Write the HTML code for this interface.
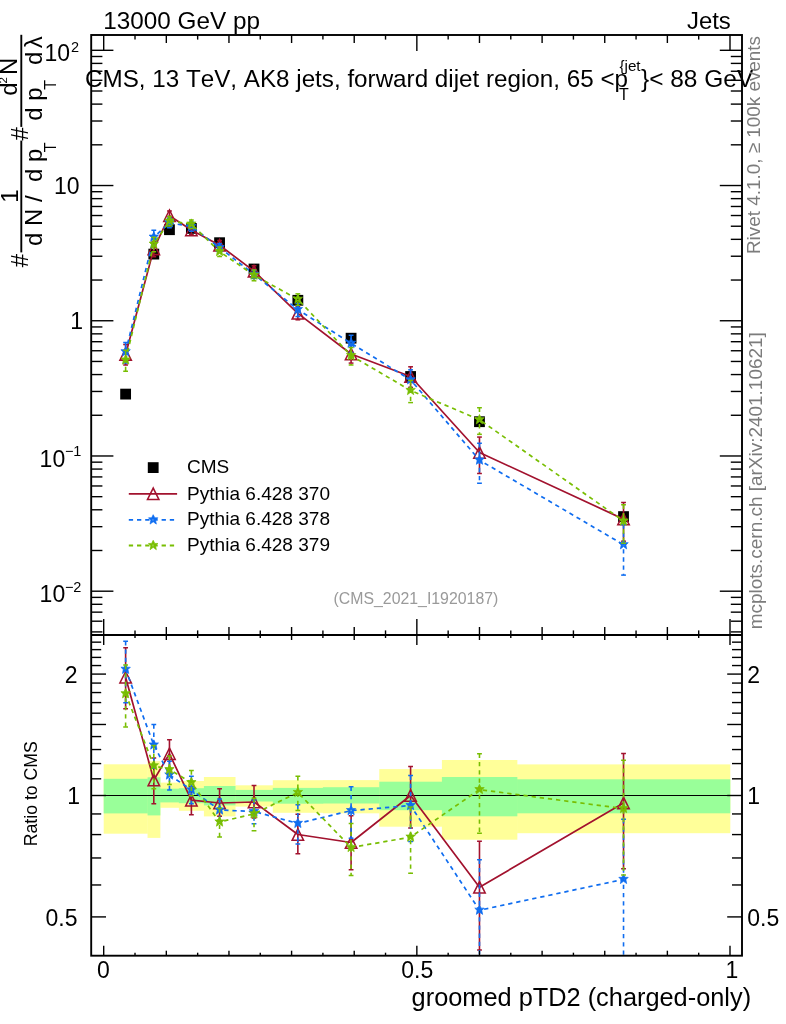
<!DOCTYPE html>
<html><head><meta charset="utf-8"><title>CMS groomed pTD2</title>
<style>html,body{margin:0;padding:0;background:#fff;}body{width:786px;height:1024px;overflow:hidden;font-family:"Liberation Sans", sans-serif;}svg{will-change:transform;}svg text{font-family:"Liberation Sans", sans-serif;font-kerning:none;}</style>
</head><body>
<svg width="786" height="1024" viewBox="0 0 786 1024" font-family='"Liberation Sans", sans-serif' style="display:block">
<rect width="786" height="1024" fill="#fff"/>
<defs><clipPath id="cm"><rect x="91.2" y="35.0" width="650.8" height="600.0"/></clipPath><clipPath id="cr"><rect x="91.2" y="635.0" width="650.8" height="320.70000000000005"/></clipPath></defs>
<rect x="103.70" y="764.30" width="44.14" height="69.40" fill="#ffff99"/>
<rect x="147.54" y="761.20" width="12.83" height="76.70" fill="#ffff99"/>
<rect x="160.07" y="782.60" width="19.09" height="25.20" fill="#ffff99"/>
<rect x="178.86" y="781.00" width="25.35" height="29.80" fill="#ffff99"/>
<rect x="203.91" y="777.00" width="31.61" height="39.40" fill="#ffff99"/>
<rect x="235.22" y="785.30" width="37.88" height="21.30" fill="#ffff99"/>
<rect x="272.80" y="780.20" width="50.40" height="32.60" fill="#ffff99"/>
<rect x="322.90" y="780.10" width="56.67" height="33.20" fill="#ffff99"/>
<rect x="379.27" y="769.10" width="62.93" height="57.60" fill="#ffff99"/>
<rect x="441.90" y="760.00" width="75.46" height="79.70" fill="#ffff99"/>
<rect x="517.06" y="764.40" width="213.24" height="68.80" fill="#ffff99"/>
<rect x="103.70" y="778.80" width="44.14" height="34.60" fill="#99ff99"/>
<rect x="147.54" y="777.30" width="12.83" height="38.10" fill="#99ff99"/>
<rect x="160.07" y="788.70" width="19.09" height="13.70" fill="#99ff99"/>
<rect x="178.86" y="788.20" width="25.35" height="15.00" fill="#99ff99"/>
<rect x="203.91" y="786.00" width="31.61" height="19.40" fill="#99ff99"/>
<rect x="235.22" y="789.90" width="37.88" height="11.60" fill="#99ff99"/>
<rect x="272.80" y="787.90" width="50.40" height="15.80" fill="#99ff99"/>
<rect x="322.90" y="787.20" width="56.67" height="16.30" fill="#99ff99"/>
<rect x="379.27" y="781.70" width="62.93" height="28.50" fill="#99ff99"/>
<rect x="441.90" y="777.00" width="75.46" height="39.30" fill="#99ff99"/>
<rect x="517.06" y="779.30" width="213.24" height="34.00" fill="#99ff99"/>
<line x1="91.20" y1="795.50" x2="742.00" y2="795.50" stroke="#000" stroke-width="1.2" />
<g clip-path="url(#cr)">
<line x1="125.62" y1="647.80" x2="125.62" y2="708.80" stroke="#a2122e" stroke-width="1.6" />
<line x1="123.22" y1="647.80" x2="128.02" y2="647.80" stroke="#a2122e" stroke-width="1.5" />
<line x1="123.22" y1="708.80" x2="128.02" y2="708.80" stroke="#a2122e" stroke-width="1.5" />
<line x1="153.80" y1="757.90" x2="153.80" y2="803.70" stroke="#a2122e" stroke-width="1.6" />
<line x1="151.40" y1="757.90" x2="156.20" y2="757.90" stroke="#a2122e" stroke-width="1.5" />
<line x1="151.40" y1="803.70" x2="156.20" y2="803.70" stroke="#a2122e" stroke-width="1.5" />
<line x1="169.46" y1="739.80" x2="169.46" y2="769.02" stroke="#a2122e" stroke-width="1.6" />
<line x1="167.06" y1="739.80" x2="171.86" y2="739.80" stroke="#a2122e" stroke-width="1.5" />
<line x1="167.06" y1="769.02" x2="171.86" y2="769.02" stroke="#a2122e" stroke-width="1.5" />
<line x1="191.38" y1="786.81" x2="191.38" y2="814.70" stroke="#a2122e" stroke-width="1.6" />
<line x1="188.98" y1="786.81" x2="193.78" y2="786.81" stroke="#a2122e" stroke-width="1.5" />
<line x1="188.98" y1="814.70" x2="193.78" y2="814.70" stroke="#a2122e" stroke-width="1.5" />
<line x1="219.57" y1="788.80" x2="219.57" y2="816.20" stroke="#a2122e" stroke-width="1.6" />
<line x1="217.17" y1="788.80" x2="221.97" y2="788.80" stroke="#a2122e" stroke-width="1.5" />
<line x1="217.17" y1="816.20" x2="221.97" y2="816.20" stroke="#a2122e" stroke-width="1.5" />
<line x1="254.01" y1="785.60" x2="254.01" y2="818.10" stroke="#a2122e" stroke-width="1.6" />
<line x1="251.61" y1="785.60" x2="256.41" y2="785.60" stroke="#a2122e" stroke-width="1.5" />
<line x1="251.61" y1="818.10" x2="256.41" y2="818.10" stroke="#a2122e" stroke-width="1.5" />
<line x1="297.85" y1="814.30" x2="297.85" y2="853.70" stroke="#a2122e" stroke-width="1.6" />
<line x1="295.45" y1="814.30" x2="300.25" y2="814.30" stroke="#a2122e" stroke-width="1.5" />
<line x1="295.45" y1="853.70" x2="300.25" y2="853.70" stroke="#a2122e" stroke-width="1.5" />
<line x1="351.09" y1="815.70" x2="351.09" y2="869.70" stroke="#a2122e" stroke-width="1.6" />
<line x1="348.69" y1="815.70" x2="353.49" y2="815.70" stroke="#a2122e" stroke-width="1.5" />
<line x1="348.69" y1="869.70" x2="353.49" y2="869.70" stroke="#a2122e" stroke-width="1.5" />
<line x1="410.59" y1="766.50" x2="410.59" y2="827.90" stroke="#a2122e" stroke-width="1.6" />
<line x1="408.19" y1="766.50" x2="412.99" y2="766.50" stroke="#a2122e" stroke-width="1.5" />
<line x1="408.19" y1="827.90" x2="412.99" y2="827.90" stroke="#a2122e" stroke-width="1.5" />
<line x1="479.48" y1="841.30" x2="479.48" y2="950.00" stroke="#a2122e" stroke-width="1.6" />
<line x1="477.08" y1="841.30" x2="481.88" y2="841.30" stroke="#a2122e" stroke-width="1.5" />
<line x1="477.08" y1="950.00" x2="481.88" y2="950.00" stroke="#a2122e" stroke-width="1.5" />
<line x1="623.53" y1="753.40" x2="623.53" y2="868.80" stroke="#a2122e" stroke-width="1.6" />
<line x1="621.13" y1="753.40" x2="625.93" y2="753.40" stroke="#a2122e" stroke-width="1.5" />
<line x1="621.13" y1="868.80" x2="625.93" y2="868.80" stroke="#a2122e" stroke-width="1.5" />
<path d="M125.62,677.20 L153.80,780.00 L169.46,753.80 L191.38,800.20 L219.57,803.00 L254.01,802.00 L297.85,834.50 L351.09,842.50 L410.59,795.50 L479.48,887.30 L623.53,803.00" fill="none" stroke="#a2122e" stroke-width="1.7"  stroke-linejoin="round"/>
<path d="M125.62,671.50 L119.92,682.90 L131.32,682.90 Z" fill="none" stroke="#a2122e" stroke-width="1.55" stroke-linejoin="miter"/>
<path d="M153.80,774.30 L148.10,785.70 L159.50,785.70 Z" fill="none" stroke="#a2122e" stroke-width="1.55" stroke-linejoin="miter"/>
<path d="M169.46,748.10 L163.76,759.50 L175.16,759.50 Z" fill="none" stroke="#a2122e" stroke-width="1.55" stroke-linejoin="miter"/>
<path d="M191.38,794.50 L185.68,805.90 L197.08,805.90 Z" fill="none" stroke="#a2122e" stroke-width="1.55" stroke-linejoin="miter"/>
<path d="M219.57,797.30 L213.87,808.70 L225.27,808.70 Z" fill="none" stroke="#a2122e" stroke-width="1.55" stroke-linejoin="miter"/>
<path d="M254.01,796.30 L248.31,807.70 L259.71,807.70 Z" fill="none" stroke="#a2122e" stroke-width="1.55" stroke-linejoin="miter"/>
<path d="M297.85,828.80 L292.15,840.20 L303.55,840.20 Z" fill="none" stroke="#a2122e" stroke-width="1.55" stroke-linejoin="miter"/>
<path d="M351.09,836.80 L345.39,848.20 L356.79,848.20 Z" fill="none" stroke="#a2122e" stroke-width="1.55" stroke-linejoin="miter"/>
<path d="M410.59,789.80 L404.89,801.20 L416.29,801.20 Z" fill="none" stroke="#a2122e" stroke-width="1.55" stroke-linejoin="miter"/>
<path d="M479.48,881.60 L473.78,893.00 L485.18,893.00 Z" fill="none" stroke="#a2122e" stroke-width="1.55" stroke-linejoin="miter"/>
<path d="M623.53,797.30 L617.83,808.70 L629.23,808.70 Z" fill="none" stroke="#a2122e" stroke-width="1.55" stroke-linejoin="miter"/>
</g>
<g clip-path="url(#cr)">
<line x1="125.62" y1="641.30" x2="125.62" y2="702.70" stroke="#0f6df0" stroke-width="1.6" stroke-dasharray="4.3 3.9"/>
<line x1="123.22" y1="641.30" x2="128.02" y2="641.30" stroke="#0f6df0" stroke-width="1.5" />
<line x1="123.22" y1="702.70" x2="128.02" y2="702.70" stroke="#0f6df0" stroke-width="1.5" />
<line x1="153.80" y1="724.40" x2="153.80" y2="768.35" stroke="#0f6df0" stroke-width="1.6" stroke-dasharray="4.3 3.9"/>
<line x1="151.40" y1="724.40" x2="156.20" y2="724.40" stroke="#0f6df0" stroke-width="1.5" />
<line x1="151.40" y1="768.35" x2="156.20" y2="768.35" stroke="#0f6df0" stroke-width="1.5" />
<line x1="169.46" y1="761.27" x2="169.46" y2="789.90" stroke="#0f6df0" stroke-width="1.6" stroke-dasharray="4.3 3.9"/>
<line x1="167.06" y1="761.27" x2="171.86" y2="761.27" stroke="#0f6df0" stroke-width="1.5" />
<line x1="167.06" y1="789.90" x2="171.86" y2="789.90" stroke="#0f6df0" stroke-width="1.5" />
<line x1="191.38" y1="776.20" x2="191.38" y2="803.70" stroke="#0f6df0" stroke-width="1.6" stroke-dasharray="4.3 3.9"/>
<line x1="188.98" y1="776.20" x2="193.78" y2="776.20" stroke="#0f6df0" stroke-width="1.5" />
<line x1="188.98" y1="803.70" x2="193.78" y2="803.70" stroke="#0f6df0" stroke-width="1.5" />
<line x1="219.57" y1="799.00" x2="219.57" y2="821.74" stroke="#0f6df0" stroke-width="1.6" stroke-dasharray="4.3 3.9"/>
<line x1="217.17" y1="799.00" x2="221.97" y2="799.00" stroke="#0f6df0" stroke-width="1.5" />
<line x1="217.17" y1="821.74" x2="221.97" y2="821.74" stroke="#0f6df0" stroke-width="1.5" />
<line x1="254.01" y1="800.00" x2="254.01" y2="823.81" stroke="#0f6df0" stroke-width="1.6" stroke-dasharray="4.3 3.9"/>
<line x1="251.61" y1="800.00" x2="256.41" y2="800.00" stroke="#0f6df0" stroke-width="1.5" />
<line x1="251.61" y1="823.81" x2="256.41" y2="823.81" stroke="#0f6df0" stroke-width="1.5" />
<line x1="297.85" y1="804.80" x2="297.85" y2="844.00" stroke="#0f6df0" stroke-width="1.6" stroke-dasharray="4.3 3.9"/>
<line x1="295.45" y1="804.80" x2="300.25" y2="804.80" stroke="#0f6df0" stroke-width="1.5" />
<line x1="295.45" y1="844.00" x2="300.25" y2="844.00" stroke="#0f6df0" stroke-width="1.5" />
<line x1="351.09" y1="786.80" x2="351.09" y2="838.15" stroke="#0f6df0" stroke-width="1.6" stroke-dasharray="4.3 3.9"/>
<line x1="348.69" y1="786.80" x2="353.49" y2="786.80" stroke="#0f6df0" stroke-width="1.5" />
<line x1="348.69" y1="838.15" x2="353.49" y2="838.15" stroke="#0f6df0" stroke-width="1.5" />
<line x1="410.59" y1="775.60" x2="410.59" y2="841.58" stroke="#0f6df0" stroke-width="1.6" stroke-dasharray="4.3 3.9"/>
<line x1="408.19" y1="775.60" x2="412.99" y2="775.60" stroke="#0f6df0" stroke-width="1.5" />
<line x1="408.19" y1="841.58" x2="412.99" y2="841.58" stroke="#0f6df0" stroke-width="1.5" />
<line x1="479.48" y1="859.80" x2="479.48" y2="979.00" stroke="#0f6df0" stroke-width="1.6" stroke-dasharray="4.3 3.9"/>
<line x1="477.08" y1="859.80" x2="481.88" y2="859.80" stroke="#0f6df0" stroke-width="1.5" />
<line x1="477.08" y1="979.00" x2="481.88" y2="979.00" stroke="#0f6df0" stroke-width="1.5" />
<line x1="623.53" y1="819.20" x2="623.53" y2="970.00" stroke="#0f6df0" stroke-width="1.6" stroke-dasharray="4.3 3.9"/>
<line x1="621.13" y1="819.20" x2="625.93" y2="819.20" stroke="#0f6df0" stroke-width="1.5" />
<line x1="621.13" y1="970.00" x2="625.93" y2="970.00" stroke="#0f6df0" stroke-width="1.5" />
<path d="M125.62,669.30 L153.80,745.00 L169.46,775.00 L191.38,789.90 L219.57,810.00 L254.01,811.50 L297.85,823.40 L351.09,810.60 L410.59,805.50 L479.48,910.20 L623.53,879.40" fill="none" stroke="#0f6df0" stroke-width="1.7" stroke-dasharray="4.3 3.9" stroke-linejoin="round"/>
<path d="M120.92,667.24 L123.27,669.58 L122.50,673.50 L125.62,671.15 L128.75,673.50 L127.97,669.58 L130.32,667.24 L127.18,667.24 L125.62,664.10 L124.06,667.24 Z M124.77,669.25 a0.85,0.85 0 1,0 1.7,0 a0.85,0.85 0 1,0 -1.7,0 Z" fill="#0f6df0" fill-rule="evenodd" stroke="#0f6df0" stroke-width="0.7" stroke-linejoin="round"/>
<path d="M149.10,742.94 L151.45,745.28 L150.68,749.20 L153.80,746.85 L156.93,749.20 L156.15,745.28 L158.50,742.94 L155.37,742.94 L153.80,739.80 L152.24,742.94 Z M152.95,744.95 a0.85,0.85 0 1,0 1.7,0 a0.85,0.85 0 1,0 -1.7,0 Z" fill="#0f6df0" fill-rule="evenodd" stroke="#0f6df0" stroke-width="0.7" stroke-linejoin="round"/>
<path d="M164.76,772.94 L167.11,775.28 L166.34,779.20 L169.46,776.85 L172.59,779.20 L171.81,775.28 L174.16,772.94 L171.02,772.94 L169.46,769.80 L167.90,772.94 Z M168.61,774.95 a0.85,0.85 0 1,0 1.7,0 a0.85,0.85 0 1,0 -1.7,0 Z" fill="#0f6df0" fill-rule="evenodd" stroke="#0f6df0" stroke-width="0.7" stroke-linejoin="round"/>
<path d="M186.68,787.84 L189.03,790.18 L188.26,794.10 L191.38,791.75 L194.51,794.10 L193.73,790.18 L196.08,787.84 L192.94,787.84 L191.38,784.70 L189.82,787.84 Z M190.53,789.85 a0.85,0.85 0 1,0 1.7,0 a0.85,0.85 0 1,0 -1.7,0 Z" fill="#0f6df0" fill-rule="evenodd" stroke="#0f6df0" stroke-width="0.7" stroke-linejoin="round"/>
<path d="M214.87,807.94 L217.22,810.28 L216.44,814.20 L219.57,811.85 L222.69,814.20 L221.92,810.28 L224.27,807.94 L221.13,807.94 L219.57,804.80 L218.00,807.94 Z M218.72,809.95 a0.85,0.85 0 1,0 1.7,0 a0.85,0.85 0 1,0 -1.7,0 Z" fill="#0f6df0" fill-rule="evenodd" stroke="#0f6df0" stroke-width="0.7" stroke-linejoin="round"/>
<path d="M249.31,809.44 L251.66,811.78 L250.89,815.70 L254.01,813.35 L257.14,815.70 L256.36,811.78 L258.71,809.44 L255.57,809.44 L254.01,806.30 L252.45,809.44 Z M253.16,811.45 a0.85,0.85 0 1,0 1.7,0 a0.85,0.85 0 1,0 -1.7,0 Z" fill="#0f6df0" fill-rule="evenodd" stroke="#0f6df0" stroke-width="0.7" stroke-linejoin="round"/>
<path d="M293.15,821.34 L295.50,823.68 L294.73,827.60 L297.85,825.25 L300.98,827.60 L300.20,823.68 L302.55,821.34 L299.42,821.34 L297.85,818.20 L296.29,821.34 Z M297.00,823.35 a0.85,0.85 0 1,0 1.7,0 a0.85,0.85 0 1,0 -1.7,0 Z" fill="#0f6df0" fill-rule="evenodd" stroke="#0f6df0" stroke-width="0.7" stroke-linejoin="round"/>
<path d="M346.39,808.54 L348.74,810.88 L347.96,814.80 L351.09,812.45 L354.21,814.80 L353.44,810.88 L355.79,808.54 L352.65,808.54 L351.09,805.40 L349.53,808.54 Z M350.24,810.55 a0.85,0.85 0 1,0 1.7,0 a0.85,0.85 0 1,0 -1.7,0 Z" fill="#0f6df0" fill-rule="evenodd" stroke="#0f6df0" stroke-width="0.7" stroke-linejoin="round"/>
<path d="M405.89,803.44 L408.24,805.78 L407.46,809.70 L410.59,807.35 L413.71,809.70 L412.94,805.78 L415.29,803.44 L412.15,803.44 L410.59,800.30 L409.02,803.44 Z M409.74,805.45 a0.85,0.85 0 1,0 1.7,0 a0.85,0.85 0 1,0 -1.7,0 Z" fill="#0f6df0" fill-rule="evenodd" stroke="#0f6df0" stroke-width="0.7" stroke-linejoin="round"/>
<path d="M474.78,908.14 L477.13,910.48 L476.35,914.40 L479.48,912.05 L482.61,914.40 L481.83,910.48 L484.18,908.14 L481.04,908.14 L479.48,905.00 L477.92,908.14 Z M478.63,910.15 a0.85,0.85 0 1,0 1.7,0 a0.85,0.85 0 1,0 -1.7,0 Z" fill="#0f6df0" fill-rule="evenodd" stroke="#0f6df0" stroke-width="0.7" stroke-linejoin="round"/>
<path d="M618.83,877.34 L621.18,879.68 L620.40,883.60 L623.53,881.25 L626.65,883.60 L625.88,879.68 L628.23,877.34 L625.09,877.34 L623.53,874.20 L621.97,877.34 Z M622.68,879.35 a0.85,0.85 0 1,0 1.7,0 a0.85,0.85 0 1,0 -1.7,0 Z" fill="#0f6df0" fill-rule="evenodd" stroke="#0f6df0" stroke-width="0.7" stroke-linejoin="round"/>
</g>
<g clip-path="url(#cr)">
<line x1="125.62" y1="665.00" x2="125.62" y2="727.10" stroke="#78be02" stroke-width="1.6" stroke-dasharray="4.3 3.9"/>
<line x1="123.22" y1="665.00" x2="128.02" y2="665.00" stroke="#78be02" stroke-width="1.5" />
<line x1="123.22" y1="727.10" x2="128.02" y2="727.10" stroke="#78be02" stroke-width="1.5" />
<line x1="153.80" y1="745.55" x2="153.80" y2="788.70" stroke="#78be02" stroke-width="1.6" stroke-dasharray="4.3 3.9"/>
<line x1="151.40" y1="745.55" x2="156.20" y2="745.55" stroke="#78be02" stroke-width="1.5" />
<line x1="151.40" y1="788.70" x2="156.20" y2="788.70" stroke="#78be02" stroke-width="1.5" />
<line x1="169.46" y1="755.90" x2="169.46" y2="784.46" stroke="#78be02" stroke-width="1.6" stroke-dasharray="4.3 3.9"/>
<line x1="167.06" y1="755.90" x2="171.86" y2="755.90" stroke="#78be02" stroke-width="1.5" />
<line x1="167.06" y1="784.46" x2="171.86" y2="784.46" stroke="#78be02" stroke-width="1.5" />
<line x1="191.38" y1="770.40" x2="191.38" y2="795.71" stroke="#78be02" stroke-width="1.6" stroke-dasharray="4.3 3.9"/>
<line x1="188.98" y1="770.40" x2="193.78" y2="770.40" stroke="#78be02" stroke-width="1.5" />
<line x1="188.98" y1="795.71" x2="193.78" y2="795.71" stroke="#78be02" stroke-width="1.5" />
<line x1="219.57" y1="808.27" x2="219.57" y2="836.90" stroke="#78be02" stroke-width="1.6" stroke-dasharray="4.3 3.9"/>
<line x1="217.17" y1="808.27" x2="221.97" y2="808.27" stroke="#78be02" stroke-width="1.5" />
<line x1="217.17" y1="836.90" x2="221.97" y2="836.90" stroke="#78be02" stroke-width="1.5" />
<line x1="254.01" y1="798.31" x2="254.01" y2="830.80" stroke="#78be02" stroke-width="1.6" stroke-dasharray="4.3 3.9"/>
<line x1="251.61" y1="798.31" x2="256.41" y2="798.31" stroke="#78be02" stroke-width="1.5" />
<line x1="251.61" y1="830.80" x2="256.41" y2="830.80" stroke="#78be02" stroke-width="1.5" />
<line x1="297.85" y1="776.20" x2="297.85" y2="810.47" stroke="#78be02" stroke-width="1.6" stroke-dasharray="4.3 3.9"/>
<line x1="295.45" y1="776.20" x2="300.25" y2="776.20" stroke="#78be02" stroke-width="1.5" />
<line x1="295.45" y1="810.47" x2="300.25" y2="810.47" stroke="#78be02" stroke-width="1.5" />
<line x1="351.09" y1="823.44" x2="351.09" y2="875.40" stroke="#78be02" stroke-width="1.6" stroke-dasharray="4.3 3.9"/>
<line x1="348.69" y1="823.44" x2="353.49" y2="823.44" stroke="#78be02" stroke-width="1.5" />
<line x1="348.69" y1="875.40" x2="353.49" y2="875.40" stroke="#78be02" stroke-width="1.5" />
<line x1="410.59" y1="807.12" x2="410.59" y2="873.30" stroke="#78be02" stroke-width="1.6" stroke-dasharray="4.3 3.9"/>
<line x1="408.19" y1="807.12" x2="412.99" y2="807.12" stroke="#78be02" stroke-width="1.5" />
<line x1="408.19" y1="873.30" x2="412.99" y2="873.30" stroke="#78be02" stroke-width="1.5" />
<line x1="479.48" y1="753.80" x2="479.48" y2="833.20" stroke="#78be02" stroke-width="1.6" stroke-dasharray="4.3 3.9"/>
<line x1="477.08" y1="753.80" x2="481.88" y2="753.80" stroke="#78be02" stroke-width="1.5" />
<line x1="477.08" y1="833.20" x2="481.88" y2="833.20" stroke="#78be02" stroke-width="1.5" />
<line x1="623.53" y1="760.20" x2="623.53" y2="874.90" stroke="#78be02" stroke-width="1.6" stroke-dasharray="4.3 3.9"/>
<line x1="621.13" y1="760.20" x2="625.93" y2="760.20" stroke="#78be02" stroke-width="1.5" />
<line x1="621.13" y1="874.90" x2="625.93" y2="874.90" stroke="#78be02" stroke-width="1.5" />
<path d="M125.62,693.70 L153.80,765.80 L169.46,769.60 L191.38,782.60 L219.57,822.00 L254.01,813.80 L297.85,792.50 L351.09,847.50 L410.59,837.10 L479.48,789.60 L623.53,808.60" fill="none" stroke="#78be02" stroke-width="1.7" stroke-dasharray="4.3 3.9" stroke-linejoin="round"/>
<path d="M120.92,691.64 L123.27,693.98 L122.50,697.90 L125.62,695.55 L128.75,697.90 L127.97,693.98 L130.32,691.64 L127.18,691.64 L125.62,688.50 L124.06,691.64 Z M124.77,693.65 a0.85,0.85 0 1,0 1.7,0 a0.85,0.85 0 1,0 -1.7,0 Z" fill="#78be02" fill-rule="evenodd" stroke="#78be02" stroke-width="0.7" stroke-linejoin="round"/>
<path d="M149.10,763.74 L151.45,766.08 L150.68,770.00 L153.80,767.65 L156.93,770.00 L156.15,766.08 L158.50,763.74 L155.37,763.74 L153.80,760.60 L152.24,763.74 Z M152.95,765.75 a0.85,0.85 0 1,0 1.7,0 a0.85,0.85 0 1,0 -1.7,0 Z" fill="#78be02" fill-rule="evenodd" stroke="#78be02" stroke-width="0.7" stroke-linejoin="round"/>
<path d="M164.76,767.54 L167.11,769.88 L166.34,773.80 L169.46,771.45 L172.59,773.80 L171.81,769.88 L174.16,767.54 L171.02,767.54 L169.46,764.40 L167.90,767.54 Z M168.61,769.55 a0.85,0.85 0 1,0 1.7,0 a0.85,0.85 0 1,0 -1.7,0 Z" fill="#78be02" fill-rule="evenodd" stroke="#78be02" stroke-width="0.7" stroke-linejoin="round"/>
<path d="M186.68,780.54 L189.03,782.88 L188.26,786.80 L191.38,784.45 L194.51,786.80 L193.73,782.88 L196.08,780.54 L192.94,780.54 L191.38,777.40 L189.82,780.54 Z M190.53,782.55 a0.85,0.85 0 1,0 1.7,0 a0.85,0.85 0 1,0 -1.7,0 Z" fill="#78be02" fill-rule="evenodd" stroke="#78be02" stroke-width="0.7" stroke-linejoin="round"/>
<path d="M214.87,819.94 L217.22,822.28 L216.44,826.20 L219.57,823.85 L222.69,826.20 L221.92,822.28 L224.27,819.94 L221.13,819.94 L219.57,816.80 L218.00,819.94 Z M218.72,821.95 a0.85,0.85 0 1,0 1.7,0 a0.85,0.85 0 1,0 -1.7,0 Z" fill="#78be02" fill-rule="evenodd" stroke="#78be02" stroke-width="0.7" stroke-linejoin="round"/>
<path d="M249.31,811.74 L251.66,814.08 L250.89,818.00 L254.01,815.65 L257.14,818.00 L256.36,814.08 L258.71,811.74 L255.57,811.74 L254.01,808.60 L252.45,811.74 Z M253.16,813.75 a0.85,0.85 0 1,0 1.7,0 a0.85,0.85 0 1,0 -1.7,0 Z" fill="#78be02" fill-rule="evenodd" stroke="#78be02" stroke-width="0.7" stroke-linejoin="round"/>
<path d="M293.15,790.44 L295.50,792.78 L294.73,796.70 L297.85,794.35 L300.98,796.70 L300.20,792.78 L302.55,790.44 L299.42,790.44 L297.85,787.30 L296.29,790.44 Z M297.00,792.45 a0.85,0.85 0 1,0 1.7,0 a0.85,0.85 0 1,0 -1.7,0 Z" fill="#78be02" fill-rule="evenodd" stroke="#78be02" stroke-width="0.7" stroke-linejoin="round"/>
<path d="M346.39,845.44 L348.74,847.78 L347.96,851.70 L351.09,849.35 L354.21,851.70 L353.44,847.78 L355.79,845.44 L352.65,845.44 L351.09,842.30 L349.53,845.44 Z M350.24,847.45 a0.85,0.85 0 1,0 1.7,0 a0.85,0.85 0 1,0 -1.7,0 Z" fill="#78be02" fill-rule="evenodd" stroke="#78be02" stroke-width="0.7" stroke-linejoin="round"/>
<path d="M405.89,835.04 L408.24,837.38 L407.46,841.30 L410.59,838.95 L413.71,841.30 L412.94,837.38 L415.29,835.04 L412.15,835.04 L410.59,831.90 L409.02,835.04 Z M409.74,837.05 a0.85,0.85 0 1,0 1.7,0 a0.85,0.85 0 1,0 -1.7,0 Z" fill="#78be02" fill-rule="evenodd" stroke="#78be02" stroke-width="0.7" stroke-linejoin="round"/>
<path d="M474.78,787.54 L477.13,789.88 L476.35,793.80 L479.48,791.45 L482.61,793.80 L481.83,789.88 L484.18,787.54 L481.04,787.54 L479.48,784.40 L477.92,787.54 Z M478.63,789.55 a0.85,0.85 0 1,0 1.7,0 a0.85,0.85 0 1,0 -1.7,0 Z" fill="#78be02" fill-rule="evenodd" stroke="#78be02" stroke-width="0.7" stroke-linejoin="round"/>
<path d="M618.83,806.54 L621.18,808.88 L620.40,812.80 L623.53,810.45 L626.65,812.80 L625.88,808.88 L628.23,806.54 L625.09,806.54 L623.53,803.40 L621.97,806.54 Z M622.68,808.55 a0.85,0.85 0 1,0 1.7,0 a0.85,0.85 0 1,0 -1.7,0 Z" fill="#78be02" fill-rule="evenodd" stroke="#78be02" stroke-width="0.7" stroke-linejoin="round"/>
</g>
<g clip-path="url(#cm)">
<rect x="120.22" y="388.70" width="10.80" height="10.80" fill="#000"/>
<rect x="148.40" y="248.70" width="10.80" height="10.80" fill="#000"/>
<rect x="164.06" y="224.30" width="10.80" height="10.80" fill="#000"/>
<rect x="185.98" y="223.00" width="10.80" height="10.80" fill="#000"/>
<rect x="214.17" y="237.30" width="10.80" height="10.80" fill="#000"/>
<rect x="248.61" y="263.60" width="10.80" height="10.80" fill="#000"/>
<rect x="292.45" y="294.90" width="10.80" height="10.80" fill="#000"/>
<rect x="345.69" y="332.80" width="10.80" height="10.80" fill="#000"/>
<rect x="405.19" y="371.10" width="10.80" height="10.80" fill="#000"/>
<rect x="474.08" y="416.30" width="10.80" height="10.80" fill="#000"/>
<rect x="618.13" y="511.20" width="10.80" height="10.80" fill="#000"/>
</g>
<g clip-path="url(#cm)">
<line x1="125.62" y1="344.58" x2="125.62" y2="365.03" stroke="#a2122e" stroke-width="1.6" />
<line x1="123.22" y1="344.58" x2="128.02" y2="344.58" stroke="#a2122e" stroke-width="1.5" />
<line x1="123.22" y1="365.03" x2="128.02" y2="365.03" stroke="#a2122e" stroke-width="1.5" />
<line x1="153.80" y1="241.49" x2="153.80" y2="256.85" stroke="#a2122e" stroke-width="1.6" />
<line x1="151.40" y1="241.49" x2="156.20" y2="241.49" stroke="#a2122e" stroke-width="1.5" />
<line x1="151.40" y1="256.85" x2="156.20" y2="256.85" stroke="#a2122e" stroke-width="1.5" />
<line x1="169.46" y1="211.02" x2="169.46" y2="220.82" stroke="#a2122e" stroke-width="1.6" />
<line x1="167.06" y1="211.02" x2="171.86" y2="211.02" stroke="#a2122e" stroke-width="1.5" />
<line x1="167.06" y1="220.82" x2="171.86" y2="220.82" stroke="#a2122e" stroke-width="1.5" />
<line x1="191.38" y1="225.49" x2="191.38" y2="234.84" stroke="#a2122e" stroke-width="1.6" />
<line x1="188.98" y1="225.49" x2="193.78" y2="225.49" stroke="#a2122e" stroke-width="1.5" />
<line x1="188.98" y1="234.84" x2="193.78" y2="234.84" stroke="#a2122e" stroke-width="1.5" />
<line x1="219.57" y1="240.45" x2="219.57" y2="249.64" stroke="#a2122e" stroke-width="1.6" />
<line x1="217.17" y1="240.45" x2="221.97" y2="240.45" stroke="#a2122e" stroke-width="1.5" />
<line x1="217.17" y1="249.64" x2="221.97" y2="249.64" stroke="#a2122e" stroke-width="1.5" />
<line x1="254.01" y1="265.68" x2="254.01" y2="276.58" stroke="#a2122e" stroke-width="1.6" />
<line x1="251.61" y1="265.68" x2="256.41" y2="265.68" stroke="#a2122e" stroke-width="1.5" />
<line x1="251.61" y1="276.58" x2="256.41" y2="276.58" stroke="#a2122e" stroke-width="1.5" />
<line x1="297.85" y1="306.60" x2="297.85" y2="319.81" stroke="#a2122e" stroke-width="1.6" />
<line x1="295.45" y1="306.60" x2="300.25" y2="306.60" stroke="#a2122e" stroke-width="1.5" />
<line x1="295.45" y1="319.81" x2="300.25" y2="319.81" stroke="#a2122e" stroke-width="1.5" />
<line x1="351.09" y1="344.97" x2="351.09" y2="363.08" stroke="#a2122e" stroke-width="1.6" />
<line x1="348.69" y1="344.97" x2="353.49" y2="344.97" stroke="#a2122e" stroke-width="1.5" />
<line x1="348.69" y1="363.08" x2="353.49" y2="363.08" stroke="#a2122e" stroke-width="1.5" />
<line x1="410.59" y1="366.78" x2="410.59" y2="387.36" stroke="#a2122e" stroke-width="1.6" />
<line x1="408.19" y1="366.78" x2="412.99" y2="366.78" stroke="#a2122e" stroke-width="1.5" />
<line x1="408.19" y1="387.36" x2="412.99" y2="387.36" stroke="#a2122e" stroke-width="1.5" />
<line x1="479.48" y1="437.06" x2="479.48" y2="473.50" stroke="#a2122e" stroke-width="1.6" />
<line x1="477.08" y1="437.06" x2="481.88" y2="437.06" stroke="#a2122e" stroke-width="1.5" />
<line x1="477.08" y1="473.50" x2="481.88" y2="473.50" stroke="#a2122e" stroke-width="1.5" />
<line x1="623.53" y1="502.48" x2="623.53" y2="541.18" stroke="#a2122e" stroke-width="1.6" />
<line x1="621.13" y1="502.48" x2="625.93" y2="502.48" stroke="#a2122e" stroke-width="1.5" />
<line x1="621.13" y1="541.18" x2="625.93" y2="541.18" stroke="#a2122e" stroke-width="1.5" />
<path d="M125.62,354.43 L153.80,248.90 L169.46,215.72 L191.38,229.98 L219.57,245.21 L254.01,271.18 L297.85,313.38 L351.09,353.96 L410.59,376.50 L479.48,452.48 L623.53,519.11" fill="none" stroke="#a2122e" stroke-width="1.7"  stroke-linejoin="round"/>
<path d="M125.62,348.73 L119.92,360.13 L131.32,360.13 Z" fill="none" stroke="#a2122e" stroke-width="1.55" stroke-linejoin="miter"/>
<path d="M153.80,243.20 L148.10,254.60 L159.50,254.60 Z" fill="none" stroke="#a2122e" stroke-width="1.55" stroke-linejoin="miter"/>
<path d="M169.46,210.02 L163.76,221.42 L175.16,221.42 Z" fill="none" stroke="#a2122e" stroke-width="1.55" stroke-linejoin="miter"/>
<path d="M191.38,224.28 L185.68,235.68 L197.08,235.68 Z" fill="none" stroke="#a2122e" stroke-width="1.55" stroke-linejoin="miter"/>
<path d="M219.57,239.51 L213.87,250.91 L225.27,250.91 Z" fill="none" stroke="#a2122e" stroke-width="1.55" stroke-linejoin="miter"/>
<path d="M254.01,265.48 L248.31,276.88 L259.71,276.88 Z" fill="none" stroke="#a2122e" stroke-width="1.55" stroke-linejoin="miter"/>
<path d="M297.85,307.68 L292.15,319.08 L303.55,319.08 Z" fill="none" stroke="#a2122e" stroke-width="1.55" stroke-linejoin="miter"/>
<path d="M351.09,348.26 L345.39,359.66 L356.79,359.66 Z" fill="none" stroke="#a2122e" stroke-width="1.55" stroke-linejoin="miter"/>
<path d="M410.59,370.80 L404.89,382.20 L416.29,382.20 Z" fill="none" stroke="#a2122e" stroke-width="1.55" stroke-linejoin="miter"/>
<path d="M479.48,446.78 L473.78,458.18 L485.18,458.18 Z" fill="none" stroke="#a2122e" stroke-width="1.55" stroke-linejoin="miter"/>
<path d="M623.53,513.41 L617.83,524.81 L629.23,524.81 Z" fill="none" stroke="#a2122e" stroke-width="1.55" stroke-linejoin="miter"/>
</g>
<g clip-path="url(#cm)">
<line x1="125.62" y1="342.40" x2="125.62" y2="362.98" stroke="#0f6df0" stroke-width="1.6" stroke-dasharray="4.3 3.9"/>
<line x1="123.22" y1="342.40" x2="128.02" y2="342.40" stroke="#0f6df0" stroke-width="1.5" />
<line x1="123.22" y1="362.98" x2="128.02" y2="362.98" stroke="#0f6df0" stroke-width="1.5" />
<line x1="153.80" y1="230.26" x2="153.80" y2="245.00" stroke="#0f6df0" stroke-width="1.6" stroke-dasharray="4.3 3.9"/>
<line x1="151.40" y1="230.26" x2="156.20" y2="230.26" stroke="#0f6df0" stroke-width="1.5" />
<line x1="151.40" y1="245.00" x2="156.20" y2="245.00" stroke="#0f6df0" stroke-width="1.5" />
<line x1="169.46" y1="218.22" x2="169.46" y2="227.82" stroke="#0f6df0" stroke-width="1.6" stroke-dasharray="4.3 3.9"/>
<line x1="167.06" y1="218.22" x2="171.86" y2="218.22" stroke="#0f6df0" stroke-width="1.5" />
<line x1="167.06" y1="227.82" x2="171.86" y2="227.82" stroke="#0f6df0" stroke-width="1.5" />
<line x1="191.38" y1="221.93" x2="191.38" y2="231.15" stroke="#0f6df0" stroke-width="1.6" stroke-dasharray="4.3 3.9"/>
<line x1="188.98" y1="221.93" x2="193.78" y2="221.93" stroke="#0f6df0" stroke-width="1.5" />
<line x1="188.98" y1="231.15" x2="193.78" y2="231.15" stroke="#0f6df0" stroke-width="1.5" />
<line x1="219.57" y1="243.87" x2="219.57" y2="251.50" stroke="#0f6df0" stroke-width="1.6" stroke-dasharray="4.3 3.9"/>
<line x1="217.17" y1="243.87" x2="221.97" y2="243.87" stroke="#0f6df0" stroke-width="1.5" />
<line x1="217.17" y1="251.50" x2="221.97" y2="251.50" stroke="#0f6df0" stroke-width="1.5" />
<line x1="254.01" y1="270.51" x2="254.01" y2="278.49" stroke="#0f6df0" stroke-width="1.6" stroke-dasharray="4.3 3.9"/>
<line x1="251.61" y1="270.51" x2="256.41" y2="270.51" stroke="#0f6df0" stroke-width="1.5" />
<line x1="251.61" y1="278.49" x2="256.41" y2="278.49" stroke="#0f6df0" stroke-width="1.5" />
<line x1="297.85" y1="303.42" x2="297.85" y2="316.56" stroke="#0f6df0" stroke-width="1.6" stroke-dasharray="4.3 3.9"/>
<line x1="295.45" y1="303.42" x2="300.25" y2="303.42" stroke="#0f6df0" stroke-width="1.5" />
<line x1="295.45" y1="316.56" x2="300.25" y2="316.56" stroke="#0f6df0" stroke-width="1.5" />
<line x1="351.09" y1="335.28" x2="351.09" y2="352.50" stroke="#0f6df0" stroke-width="1.6" stroke-dasharray="4.3 3.9"/>
<line x1="348.69" y1="335.28" x2="353.49" y2="335.28" stroke="#0f6df0" stroke-width="1.5" />
<line x1="348.69" y1="352.50" x2="353.49" y2="352.50" stroke="#0f6df0" stroke-width="1.5" />
<line x1="410.59" y1="369.83" x2="410.59" y2="391.95" stroke="#0f6df0" stroke-width="1.6" stroke-dasharray="4.3 3.9"/>
<line x1="408.19" y1="369.83" x2="412.99" y2="369.83" stroke="#0f6df0" stroke-width="1.5" />
<line x1="408.19" y1="391.95" x2="412.99" y2="391.95" stroke="#0f6df0" stroke-width="1.5" />
<line x1="479.48" y1="443.26" x2="479.48" y2="483.23" stroke="#0f6df0" stroke-width="1.6" stroke-dasharray="4.3 3.9"/>
<line x1="477.08" y1="443.26" x2="481.88" y2="443.26" stroke="#0f6df0" stroke-width="1.5" />
<line x1="477.08" y1="483.23" x2="481.88" y2="483.23" stroke="#0f6df0" stroke-width="1.5" />
<line x1="623.53" y1="524.55" x2="623.53" y2="575.11" stroke="#0f6df0" stroke-width="1.6" stroke-dasharray="4.3 3.9"/>
<line x1="621.13" y1="524.55" x2="625.93" y2="524.55" stroke="#0f6df0" stroke-width="1.5" />
<line x1="621.13" y1="575.11" x2="625.93" y2="575.11" stroke="#0f6df0" stroke-width="1.5" />
<path d="M125.62,351.79 L153.80,237.17 L169.46,222.83 L191.38,226.52 L219.57,247.56 L254.01,274.36 L297.85,309.65 L351.09,343.26 L410.59,379.85 L479.48,460.16 L623.53,544.73" fill="none" stroke="#0f6df0" stroke-width="1.7" stroke-dasharray="4.3 3.9" stroke-linejoin="round"/>
<path d="M120.92,349.72 L123.27,352.06 L122.50,355.99 L125.62,353.64 L128.75,355.99 L127.97,352.06 L130.32,349.72 L127.18,349.72 L125.62,346.59 L124.06,349.72 Z M124.77,351.74 a0.85,0.85 0 1,0 1.7,0 a0.85,0.85 0 1,0 -1.7,0 Z" fill="#0f6df0" fill-rule="evenodd" stroke="#0f6df0" stroke-width="0.7" stroke-linejoin="round"/>
<path d="M149.10,235.10 L151.45,237.44 L150.68,241.37 L153.80,239.02 L156.93,241.37 L156.15,237.44 L158.50,235.10 L155.37,235.10 L153.80,231.97 L152.24,235.10 Z M152.95,237.12 a0.85,0.85 0 1,0 1.7,0 a0.85,0.85 0 1,0 -1.7,0 Z" fill="#0f6df0" fill-rule="evenodd" stroke="#0f6df0" stroke-width="0.7" stroke-linejoin="round"/>
<path d="M164.76,220.76 L167.11,223.10 L166.34,227.03 L169.46,224.68 L172.59,227.03 L171.81,223.10 L174.16,220.76 L171.02,220.76 L169.46,217.63 L167.90,220.76 Z M168.61,222.78 a0.85,0.85 0 1,0 1.7,0 a0.85,0.85 0 1,0 -1.7,0 Z" fill="#0f6df0" fill-rule="evenodd" stroke="#0f6df0" stroke-width="0.7" stroke-linejoin="round"/>
<path d="M186.68,224.46 L189.03,226.80 L188.26,230.72 L191.38,228.37 L194.51,230.72 L193.73,226.80 L196.08,224.46 L192.94,224.46 L191.38,221.32 L189.82,224.46 Z M190.53,226.47 a0.85,0.85 0 1,0 1.7,0 a0.85,0.85 0 1,0 -1.7,0 Z" fill="#0f6df0" fill-rule="evenodd" stroke="#0f6df0" stroke-width="0.7" stroke-linejoin="round"/>
<path d="M214.87,245.50 L217.22,247.84 L216.44,251.76 L219.57,249.41 L222.69,251.76 L221.92,247.84 L224.27,245.50 L221.13,245.50 L219.57,242.36 L218.00,245.50 Z M218.72,247.51 a0.85,0.85 0 1,0 1.7,0 a0.85,0.85 0 1,0 -1.7,0 Z" fill="#0f6df0" fill-rule="evenodd" stroke="#0f6df0" stroke-width="0.7" stroke-linejoin="round"/>
<path d="M249.31,272.30 L251.66,274.64 L250.89,278.56 L254.01,276.21 L257.14,278.56 L256.36,274.64 L258.71,272.30 L255.57,272.30 L254.01,269.16 L252.45,272.30 Z M253.16,274.31 a0.85,0.85 0 1,0 1.7,0 a0.85,0.85 0 1,0 -1.7,0 Z" fill="#0f6df0" fill-rule="evenodd" stroke="#0f6df0" stroke-width="0.7" stroke-linejoin="round"/>
<path d="M293.15,307.59 L295.50,309.93 L294.73,313.85 L297.85,311.50 L300.98,313.85 L300.20,309.93 L302.55,307.59 L299.42,307.59 L297.85,304.45 L296.29,307.59 Z M297.00,309.60 a0.85,0.85 0 1,0 1.7,0 a0.85,0.85 0 1,0 -1.7,0 Z" fill="#0f6df0" fill-rule="evenodd" stroke="#0f6df0" stroke-width="0.7" stroke-linejoin="round"/>
<path d="M346.39,341.20 L348.74,343.54 L347.96,347.46 L351.09,345.11 L354.21,347.46 L353.44,343.54 L355.79,341.20 L352.65,341.20 L351.09,338.06 L349.53,341.20 Z M350.24,343.21 a0.85,0.85 0 1,0 1.7,0 a0.85,0.85 0 1,0 -1.7,0 Z" fill="#0f6df0" fill-rule="evenodd" stroke="#0f6df0" stroke-width="0.7" stroke-linejoin="round"/>
<path d="M405.89,377.79 L408.24,380.13 L407.46,384.05 L410.59,381.70 L413.71,384.05 L412.94,380.13 L415.29,377.79 L412.15,377.79 L410.59,374.65 L409.02,377.79 Z M409.74,379.80 a0.85,0.85 0 1,0 1.7,0 a0.85,0.85 0 1,0 -1.7,0 Z" fill="#0f6df0" fill-rule="evenodd" stroke="#0f6df0" stroke-width="0.7" stroke-linejoin="round"/>
<path d="M474.78,458.10 L477.13,460.43 L476.35,464.36 L479.48,462.01 L482.61,464.36 L481.83,460.43 L484.18,458.10 L481.04,458.10 L479.48,454.96 L477.92,458.10 Z M478.63,460.11 a0.85,0.85 0 1,0 1.7,0 a0.85,0.85 0 1,0 -1.7,0 Z" fill="#0f6df0" fill-rule="evenodd" stroke="#0f6df0" stroke-width="0.7" stroke-linejoin="round"/>
<path d="M618.83,542.67 L621.18,545.01 L620.40,548.93 L623.53,546.58 L626.65,548.93 L625.88,545.01 L628.23,542.67 L625.09,542.67 L623.53,539.53 L621.97,542.67 Z M622.68,544.68 a0.85,0.85 0 1,0 1.7,0 a0.85,0.85 0 1,0 -1.7,0 Z" fill="#0f6df0" fill-rule="evenodd" stroke="#0f6df0" stroke-width="0.7" stroke-linejoin="round"/>
</g>
<g clip-path="url(#cm)">
<line x1="125.62" y1="350.34" x2="125.62" y2="371.17" stroke="#78be02" stroke-width="1.6" stroke-dasharray="4.3 3.9"/>
<line x1="123.22" y1="350.34" x2="128.02" y2="350.34" stroke="#78be02" stroke-width="1.5" />
<line x1="123.22" y1="371.17" x2="128.02" y2="371.17" stroke="#78be02" stroke-width="1.5" />
<line x1="153.80" y1="237.35" x2="153.80" y2="251.82" stroke="#78be02" stroke-width="1.6" stroke-dasharray="4.3 3.9"/>
<line x1="151.40" y1="237.35" x2="156.20" y2="237.35" stroke="#78be02" stroke-width="1.5" />
<line x1="151.40" y1="251.82" x2="156.20" y2="251.82" stroke="#78be02" stroke-width="1.5" />
<line x1="169.46" y1="216.42" x2="169.46" y2="226.00" stroke="#78be02" stroke-width="1.6" stroke-dasharray="4.3 3.9"/>
<line x1="167.06" y1="216.42" x2="171.86" y2="216.42" stroke="#78be02" stroke-width="1.5" />
<line x1="167.06" y1="226.00" x2="171.86" y2="226.00" stroke="#78be02" stroke-width="1.5" />
<line x1="191.38" y1="219.98" x2="191.38" y2="228.47" stroke="#78be02" stroke-width="1.6" stroke-dasharray="4.3 3.9"/>
<line x1="188.98" y1="219.98" x2="193.78" y2="219.98" stroke="#78be02" stroke-width="1.5" />
<line x1="188.98" y1="228.47" x2="193.78" y2="228.47" stroke="#78be02" stroke-width="1.5" />
<line x1="219.57" y1="246.98" x2="219.57" y2="256.58" stroke="#78be02" stroke-width="1.6" stroke-dasharray="4.3 3.9"/>
<line x1="217.17" y1="246.98" x2="221.97" y2="246.98" stroke="#78be02" stroke-width="1.5" />
<line x1="217.17" y1="256.58" x2="221.97" y2="256.58" stroke="#78be02" stroke-width="1.5" />
<line x1="254.01" y1="269.94" x2="254.01" y2="280.84" stroke="#78be02" stroke-width="1.6" stroke-dasharray="4.3 3.9"/>
<line x1="251.61" y1="269.94" x2="256.41" y2="269.94" stroke="#78be02" stroke-width="1.5" />
<line x1="251.61" y1="280.84" x2="256.41" y2="280.84" stroke="#78be02" stroke-width="1.5" />
<line x1="297.85" y1="293.83" x2="297.85" y2="305.32" stroke="#78be02" stroke-width="1.6" stroke-dasharray="4.3 3.9"/>
<line x1="295.45" y1="293.83" x2="300.25" y2="293.83" stroke="#78be02" stroke-width="1.5" />
<line x1="295.45" y1="305.32" x2="300.25" y2="305.32" stroke="#78be02" stroke-width="1.5" />
<line x1="351.09" y1="347.57" x2="351.09" y2="364.99" stroke="#78be02" stroke-width="1.6" stroke-dasharray="4.3 3.9"/>
<line x1="348.69" y1="347.57" x2="353.49" y2="347.57" stroke="#78be02" stroke-width="1.5" />
<line x1="348.69" y1="364.99" x2="353.49" y2="364.99" stroke="#78be02" stroke-width="1.5" />
<line x1="410.59" y1="380.39" x2="410.59" y2="402.59" stroke="#78be02" stroke-width="1.6" stroke-dasharray="4.3 3.9"/>
<line x1="408.19" y1="380.39" x2="412.99" y2="380.39" stroke="#78be02" stroke-width="1.5" />
<line x1="408.19" y1="402.59" x2="412.99" y2="402.59" stroke="#78be02" stroke-width="1.5" />
<line x1="479.48" y1="407.72" x2="479.48" y2="434.34" stroke="#78be02" stroke-width="1.6" stroke-dasharray="4.3 3.9"/>
<line x1="477.08" y1="407.72" x2="481.88" y2="407.72" stroke="#78be02" stroke-width="1.5" />
<line x1="477.08" y1="434.34" x2="481.88" y2="434.34" stroke="#78be02" stroke-width="1.5" />
<line x1="623.53" y1="504.76" x2="623.53" y2="543.22" stroke="#78be02" stroke-width="1.6" stroke-dasharray="4.3 3.9"/>
<line x1="621.13" y1="504.76" x2="625.93" y2="504.76" stroke="#78be02" stroke-width="1.5" />
<line x1="621.13" y1="543.22" x2="625.93" y2="543.22" stroke="#78be02" stroke-width="1.5" />
<path d="M125.62,359.97 L153.80,244.14 L169.46,221.02 L191.38,224.07 L219.57,251.59 L254.01,275.14 L297.85,299.29 L351.09,355.64 L410.59,390.45 L479.48,419.72 L623.53,520.99" fill="none" stroke="#78be02" stroke-width="1.7" stroke-dasharray="4.3 3.9" stroke-linejoin="round"/>
<path d="M120.92,357.90 L123.27,360.24 L122.50,364.17 L125.62,361.82 L128.75,364.17 L127.97,360.24 L130.32,357.90 L127.18,357.90 L125.62,354.77 L124.06,357.90 Z M124.77,359.92 a0.85,0.85 0 1,0 1.7,0 a0.85,0.85 0 1,0 -1.7,0 Z" fill="#78be02" fill-rule="evenodd" stroke="#78be02" stroke-width="0.7" stroke-linejoin="round"/>
<path d="M149.10,242.08 L151.45,244.42 L150.68,248.34 L153.80,245.99 L156.93,248.34 L156.15,244.42 L158.50,242.08 L155.37,242.08 L153.80,238.94 L152.24,242.08 Z M152.95,244.09 a0.85,0.85 0 1,0 1.7,0 a0.85,0.85 0 1,0 -1.7,0 Z" fill="#78be02" fill-rule="evenodd" stroke="#78be02" stroke-width="0.7" stroke-linejoin="round"/>
<path d="M164.76,218.95 L167.11,221.29 L166.34,225.22 L169.46,222.87 L172.59,225.22 L171.81,221.29 L174.16,218.95 L171.02,218.95 L169.46,215.82 L167.90,218.95 Z M168.61,220.97 a0.85,0.85 0 1,0 1.7,0 a0.85,0.85 0 1,0 -1.7,0 Z" fill="#78be02" fill-rule="evenodd" stroke="#78be02" stroke-width="0.7" stroke-linejoin="round"/>
<path d="M186.68,222.01 L189.03,224.35 L188.26,228.27 L191.38,225.92 L194.51,228.27 L193.73,224.35 L196.08,222.01 L192.94,222.01 L191.38,218.87 L189.82,222.01 Z M190.53,224.02 a0.85,0.85 0 1,0 1.7,0 a0.85,0.85 0 1,0 -1.7,0 Z" fill="#78be02" fill-rule="evenodd" stroke="#78be02" stroke-width="0.7" stroke-linejoin="round"/>
<path d="M214.87,249.52 L217.22,251.86 L216.44,255.79 L219.57,253.44 L222.69,255.79 L221.92,251.86 L224.27,249.52 L221.13,249.52 L219.57,246.39 L218.00,249.52 Z M218.72,251.54 a0.85,0.85 0 1,0 1.7,0 a0.85,0.85 0 1,0 -1.7,0 Z" fill="#78be02" fill-rule="evenodd" stroke="#78be02" stroke-width="0.7" stroke-linejoin="round"/>
<path d="M249.31,273.07 L251.66,275.41 L250.89,279.34 L254.01,276.99 L257.14,279.34 L256.36,275.41 L258.71,273.07 L255.57,273.07 L254.01,269.94 L252.45,273.07 Z M253.16,275.09 a0.85,0.85 0 1,0 1.7,0 a0.85,0.85 0 1,0 -1.7,0 Z" fill="#78be02" fill-rule="evenodd" stroke="#78be02" stroke-width="0.7" stroke-linejoin="round"/>
<path d="M293.15,297.23 L295.50,299.57 L294.73,303.49 L297.85,301.14 L300.98,303.49 L300.20,299.57 L302.55,297.23 L299.42,297.23 L297.85,294.09 L296.29,297.23 Z M297.00,299.24 a0.85,0.85 0 1,0 1.7,0 a0.85,0.85 0 1,0 -1.7,0 Z" fill="#78be02" fill-rule="evenodd" stroke="#78be02" stroke-width="0.7" stroke-linejoin="round"/>
<path d="M346.39,353.57 L348.74,355.91 L347.96,359.84 L351.09,357.49 L354.21,359.84 L353.44,355.91 L355.79,353.57 L352.65,353.57 L351.09,350.44 L349.53,353.57 Z M350.24,355.59 a0.85,0.85 0 1,0 1.7,0 a0.85,0.85 0 1,0 -1.7,0 Z" fill="#78be02" fill-rule="evenodd" stroke="#78be02" stroke-width="0.7" stroke-linejoin="round"/>
<path d="M405.89,388.39 L408.24,390.72 L407.46,394.65 L410.59,392.30 L413.71,394.65 L412.94,390.72 L415.29,388.39 L412.15,388.39 L410.59,385.25 L409.02,388.39 Z M409.74,390.40 a0.85,0.85 0 1,0 1.7,0 a0.85,0.85 0 1,0 -1.7,0 Z" fill="#78be02" fill-rule="evenodd" stroke="#78be02" stroke-width="0.7" stroke-linejoin="round"/>
<path d="M474.78,417.66 L477.13,420.00 L476.35,423.92 L479.48,421.57 L482.61,423.92 L481.83,420.00 L484.18,417.66 L481.04,417.66 L479.48,414.52 L477.92,417.66 Z M478.63,419.67 a0.85,0.85 0 1,0 1.7,0 a0.85,0.85 0 1,0 -1.7,0 Z" fill="#78be02" fill-rule="evenodd" stroke="#78be02" stroke-width="0.7" stroke-linejoin="round"/>
<path d="M618.83,518.93 L621.18,521.27 L620.40,525.19 L623.53,522.84 L626.65,525.19 L625.88,521.27 L628.23,518.93 L625.09,518.93 L623.53,515.79 L621.97,518.93 Z M622.68,520.94 a0.85,0.85 0 1,0 1.7,0 a0.85,0.85 0 1,0 -1.7,0 Z" fill="#78be02" fill-rule="evenodd" stroke="#78be02" stroke-width="0.7" stroke-linejoin="round"/>
</g>
<line x1="103.70" y1="635.00" x2="103.70" y2="619.00" stroke="#000" stroke-width="1.4" />
<line x1="103.70" y1="35.00" x2="103.70" y2="51.00" stroke="#000" stroke-width="1.4" />
<line x1="103.70" y1="635.00" x2="103.70" y2="645.00" stroke="#000" stroke-width="1.4" />
<line x1="103.70" y1="955.70" x2="103.70" y2="945.70" stroke="#000" stroke-width="1.4" />
<line x1="135.01" y1="635.00" x2="135.01" y2="630.40" stroke="#000" stroke-width="1.4" />
<line x1="135.01" y1="35.00" x2="135.01" y2="39.60" stroke="#000" stroke-width="1.4" />
<line x1="135.01" y1="635.00" x2="135.01" y2="638.00" stroke="#000" stroke-width="1.4" />
<line x1="135.01" y1="955.70" x2="135.01" y2="952.70" stroke="#000" stroke-width="1.4" />
<line x1="166.33" y1="635.00" x2="166.33" y2="627.00" stroke="#000" stroke-width="1.4" />
<line x1="166.33" y1="35.00" x2="166.33" y2="43.00" stroke="#000" stroke-width="1.4" />
<line x1="166.33" y1="635.00" x2="166.33" y2="640.00" stroke="#000" stroke-width="1.4" />
<line x1="166.33" y1="955.70" x2="166.33" y2="950.70" stroke="#000" stroke-width="1.4" />
<line x1="197.65" y1="635.00" x2="197.65" y2="630.40" stroke="#000" stroke-width="1.4" />
<line x1="197.65" y1="35.00" x2="197.65" y2="39.60" stroke="#000" stroke-width="1.4" />
<line x1="197.65" y1="635.00" x2="197.65" y2="638.00" stroke="#000" stroke-width="1.4" />
<line x1="197.65" y1="955.70" x2="197.65" y2="952.70" stroke="#000" stroke-width="1.4" />
<line x1="228.96" y1="635.00" x2="228.96" y2="627.00" stroke="#000" stroke-width="1.4" />
<line x1="228.96" y1="35.00" x2="228.96" y2="43.00" stroke="#000" stroke-width="1.4" />
<line x1="228.96" y1="635.00" x2="228.96" y2="640.00" stroke="#000" stroke-width="1.4" />
<line x1="228.96" y1="955.70" x2="228.96" y2="950.70" stroke="#000" stroke-width="1.4" />
<line x1="260.27" y1="635.00" x2="260.27" y2="630.40" stroke="#000" stroke-width="1.4" />
<line x1="260.27" y1="35.00" x2="260.27" y2="39.60" stroke="#000" stroke-width="1.4" />
<line x1="260.27" y1="635.00" x2="260.27" y2="638.00" stroke="#000" stroke-width="1.4" />
<line x1="260.27" y1="955.70" x2="260.27" y2="952.70" stroke="#000" stroke-width="1.4" />
<line x1="291.59" y1="635.00" x2="291.59" y2="627.00" stroke="#000" stroke-width="1.4" />
<line x1="291.59" y1="35.00" x2="291.59" y2="43.00" stroke="#000" stroke-width="1.4" />
<line x1="291.59" y1="635.00" x2="291.59" y2="640.00" stroke="#000" stroke-width="1.4" />
<line x1="291.59" y1="955.70" x2="291.59" y2="950.70" stroke="#000" stroke-width="1.4" />
<line x1="322.91" y1="635.00" x2="322.91" y2="630.40" stroke="#000" stroke-width="1.4" />
<line x1="322.91" y1="35.00" x2="322.91" y2="39.60" stroke="#000" stroke-width="1.4" />
<line x1="322.91" y1="635.00" x2="322.91" y2="638.00" stroke="#000" stroke-width="1.4" />
<line x1="322.91" y1="955.70" x2="322.91" y2="952.70" stroke="#000" stroke-width="1.4" />
<line x1="354.22" y1="635.00" x2="354.22" y2="627.00" stroke="#000" stroke-width="1.4" />
<line x1="354.22" y1="35.00" x2="354.22" y2="43.00" stroke="#000" stroke-width="1.4" />
<line x1="354.22" y1="635.00" x2="354.22" y2="640.00" stroke="#000" stroke-width="1.4" />
<line x1="354.22" y1="955.70" x2="354.22" y2="950.70" stroke="#000" stroke-width="1.4" />
<line x1="385.53" y1="635.00" x2="385.53" y2="630.40" stroke="#000" stroke-width="1.4" />
<line x1="385.53" y1="35.00" x2="385.53" y2="39.60" stroke="#000" stroke-width="1.4" />
<line x1="385.53" y1="635.00" x2="385.53" y2="638.00" stroke="#000" stroke-width="1.4" />
<line x1="385.53" y1="955.70" x2="385.53" y2="952.70" stroke="#000" stroke-width="1.4" />
<line x1="416.85" y1="635.00" x2="416.85" y2="619.00" stroke="#000" stroke-width="1.4" />
<line x1="416.85" y1="35.00" x2="416.85" y2="51.00" stroke="#000" stroke-width="1.4" />
<line x1="416.85" y1="635.00" x2="416.85" y2="645.00" stroke="#000" stroke-width="1.4" />
<line x1="416.85" y1="955.70" x2="416.85" y2="945.70" stroke="#000" stroke-width="1.4" />
<line x1="448.16" y1="635.00" x2="448.16" y2="630.40" stroke="#000" stroke-width="1.4" />
<line x1="448.16" y1="35.00" x2="448.16" y2="39.60" stroke="#000" stroke-width="1.4" />
<line x1="448.16" y1="635.00" x2="448.16" y2="638.00" stroke="#000" stroke-width="1.4" />
<line x1="448.16" y1="955.70" x2="448.16" y2="952.70" stroke="#000" stroke-width="1.4" />
<line x1="479.48" y1="635.00" x2="479.48" y2="627.00" stroke="#000" stroke-width="1.4" />
<line x1="479.48" y1="35.00" x2="479.48" y2="43.00" stroke="#000" stroke-width="1.4" />
<line x1="479.48" y1="635.00" x2="479.48" y2="640.00" stroke="#000" stroke-width="1.4" />
<line x1="479.48" y1="955.70" x2="479.48" y2="950.70" stroke="#000" stroke-width="1.4" />
<line x1="510.79" y1="635.00" x2="510.79" y2="630.40" stroke="#000" stroke-width="1.4" />
<line x1="510.79" y1="35.00" x2="510.79" y2="39.60" stroke="#000" stroke-width="1.4" />
<line x1="510.79" y1="635.00" x2="510.79" y2="638.00" stroke="#000" stroke-width="1.4" />
<line x1="510.79" y1="955.70" x2="510.79" y2="952.70" stroke="#000" stroke-width="1.4" />
<line x1="542.11" y1="635.00" x2="542.11" y2="627.00" stroke="#000" stroke-width="1.4" />
<line x1="542.11" y1="35.00" x2="542.11" y2="43.00" stroke="#000" stroke-width="1.4" />
<line x1="542.11" y1="635.00" x2="542.11" y2="640.00" stroke="#000" stroke-width="1.4" />
<line x1="542.11" y1="955.70" x2="542.11" y2="950.70" stroke="#000" stroke-width="1.4" />
<line x1="573.42" y1="635.00" x2="573.42" y2="630.40" stroke="#000" stroke-width="1.4" />
<line x1="573.42" y1="35.00" x2="573.42" y2="39.60" stroke="#000" stroke-width="1.4" />
<line x1="573.42" y1="635.00" x2="573.42" y2="638.00" stroke="#000" stroke-width="1.4" />
<line x1="573.42" y1="955.70" x2="573.42" y2="952.70" stroke="#000" stroke-width="1.4" />
<line x1="604.74" y1="635.00" x2="604.74" y2="627.00" stroke="#000" stroke-width="1.4" />
<line x1="604.74" y1="35.00" x2="604.74" y2="43.00" stroke="#000" stroke-width="1.4" />
<line x1="604.74" y1="635.00" x2="604.74" y2="640.00" stroke="#000" stroke-width="1.4" />
<line x1="604.74" y1="955.70" x2="604.74" y2="950.70" stroke="#000" stroke-width="1.4" />
<line x1="636.06" y1="635.00" x2="636.06" y2="630.40" stroke="#000" stroke-width="1.4" />
<line x1="636.06" y1="35.00" x2="636.06" y2="39.60" stroke="#000" stroke-width="1.4" />
<line x1="636.06" y1="635.00" x2="636.06" y2="638.00" stroke="#000" stroke-width="1.4" />
<line x1="636.06" y1="955.70" x2="636.06" y2="952.70" stroke="#000" stroke-width="1.4" />
<line x1="667.37" y1="635.00" x2="667.37" y2="627.00" stroke="#000" stroke-width="1.4" />
<line x1="667.37" y1="35.00" x2="667.37" y2="43.00" stroke="#000" stroke-width="1.4" />
<line x1="667.37" y1="635.00" x2="667.37" y2="640.00" stroke="#000" stroke-width="1.4" />
<line x1="667.37" y1="955.70" x2="667.37" y2="950.70" stroke="#000" stroke-width="1.4" />
<line x1="698.69" y1="635.00" x2="698.69" y2="630.40" stroke="#000" stroke-width="1.4" />
<line x1="698.69" y1="35.00" x2="698.69" y2="39.60" stroke="#000" stroke-width="1.4" />
<line x1="698.69" y1="635.00" x2="698.69" y2="638.00" stroke="#000" stroke-width="1.4" />
<line x1="698.69" y1="955.70" x2="698.69" y2="952.70" stroke="#000" stroke-width="1.4" />
<line x1="730.00" y1="635.00" x2="730.00" y2="619.00" stroke="#000" stroke-width="1.4" />
<line x1="730.00" y1="35.00" x2="730.00" y2="51.00" stroke="#000" stroke-width="1.4" />
<line x1="730.00" y1="635.00" x2="730.00" y2="645.00" stroke="#000" stroke-width="1.4" />
<line x1="730.00" y1="955.70" x2="730.00" y2="945.70" stroke="#000" stroke-width="1.4" />
<line x1="91.20" y1="631.91" x2="102.40" y2="631.91" stroke="#000" stroke-width="1.4" />
<line x1="742.00" y1="631.91" x2="730.80" y2="631.91" stroke="#000" stroke-width="1.4" />
<line x1="91.20" y1="621.20" x2="102.40" y2="621.20" stroke="#000" stroke-width="1.4" />
<line x1="742.00" y1="621.20" x2="730.80" y2="621.20" stroke="#000" stroke-width="1.4" />
<line x1="91.20" y1="612.15" x2="102.40" y2="612.15" stroke="#000" stroke-width="1.4" />
<line x1="742.00" y1="612.15" x2="730.80" y2="612.15" stroke="#000" stroke-width="1.4" />
<line x1="91.20" y1="604.30" x2="102.40" y2="604.30" stroke="#000" stroke-width="1.4" />
<line x1="742.00" y1="604.30" x2="730.80" y2="604.30" stroke="#000" stroke-width="1.4" />
<line x1="91.20" y1="597.39" x2="102.40" y2="597.39" stroke="#000" stroke-width="1.4" />
<line x1="742.00" y1="597.39" x2="730.80" y2="597.39" stroke="#000" stroke-width="1.4" />
<line x1="91.20" y1="591.20" x2="113.40" y2="591.20" stroke="#000" stroke-width="1.4" />
<line x1="742.00" y1="591.20" x2="719.80" y2="591.20" stroke="#000" stroke-width="1.4" />
<line x1="91.20" y1="550.49" x2="102.40" y2="550.49" stroke="#000" stroke-width="1.4" />
<line x1="742.00" y1="550.49" x2="730.80" y2="550.49" stroke="#000" stroke-width="1.4" />
<line x1="91.20" y1="526.68" x2="102.40" y2="526.68" stroke="#000" stroke-width="1.4" />
<line x1="742.00" y1="526.68" x2="730.80" y2="526.68" stroke="#000" stroke-width="1.4" />
<line x1="91.20" y1="509.79" x2="102.40" y2="509.79" stroke="#000" stroke-width="1.4" />
<line x1="742.00" y1="509.79" x2="730.80" y2="509.79" stroke="#000" stroke-width="1.4" />
<line x1="91.20" y1="496.68" x2="102.40" y2="496.68" stroke="#000" stroke-width="1.4" />
<line x1="742.00" y1="496.68" x2="730.80" y2="496.68" stroke="#000" stroke-width="1.4" />
<line x1="91.20" y1="485.97" x2="102.40" y2="485.97" stroke="#000" stroke-width="1.4" />
<line x1="742.00" y1="485.97" x2="730.80" y2="485.97" stroke="#000" stroke-width="1.4" />
<line x1="91.20" y1="476.92" x2="102.40" y2="476.92" stroke="#000" stroke-width="1.4" />
<line x1="742.00" y1="476.92" x2="730.80" y2="476.92" stroke="#000" stroke-width="1.4" />
<line x1="91.20" y1="469.08" x2="102.40" y2="469.08" stroke="#000" stroke-width="1.4" />
<line x1="742.00" y1="469.08" x2="730.80" y2="469.08" stroke="#000" stroke-width="1.4" />
<line x1="91.20" y1="462.16" x2="102.40" y2="462.16" stroke="#000" stroke-width="1.4" />
<line x1="742.00" y1="462.16" x2="730.80" y2="462.16" stroke="#000" stroke-width="1.4" />
<line x1="91.20" y1="455.98" x2="113.40" y2="455.98" stroke="#000" stroke-width="1.4" />
<line x1="742.00" y1="455.98" x2="719.80" y2="455.98" stroke="#000" stroke-width="1.4" />
<line x1="91.20" y1="415.27" x2="102.40" y2="415.27" stroke="#000" stroke-width="1.4" />
<line x1="742.00" y1="415.27" x2="730.80" y2="415.27" stroke="#000" stroke-width="1.4" />
<line x1="91.20" y1="391.46" x2="102.40" y2="391.46" stroke="#000" stroke-width="1.4" />
<line x1="742.00" y1="391.46" x2="730.80" y2="391.46" stroke="#000" stroke-width="1.4" />
<line x1="91.20" y1="374.56" x2="102.40" y2="374.56" stroke="#000" stroke-width="1.4" />
<line x1="742.00" y1="374.56" x2="730.80" y2="374.56" stroke="#000" stroke-width="1.4" />
<line x1="91.20" y1="361.46" x2="102.40" y2="361.46" stroke="#000" stroke-width="1.4" />
<line x1="742.00" y1="361.46" x2="730.80" y2="361.46" stroke="#000" stroke-width="1.4" />
<line x1="91.20" y1="350.75" x2="102.40" y2="350.75" stroke="#000" stroke-width="1.4" />
<line x1="742.00" y1="350.75" x2="730.80" y2="350.75" stroke="#000" stroke-width="1.4" />
<line x1="91.20" y1="341.70" x2="102.40" y2="341.70" stroke="#000" stroke-width="1.4" />
<line x1="742.00" y1="341.70" x2="730.80" y2="341.70" stroke="#000" stroke-width="1.4" />
<line x1="91.20" y1="333.85" x2="102.40" y2="333.85" stroke="#000" stroke-width="1.4" />
<line x1="742.00" y1="333.85" x2="730.80" y2="333.85" stroke="#000" stroke-width="1.4" />
<line x1="91.20" y1="326.94" x2="102.40" y2="326.94" stroke="#000" stroke-width="1.4" />
<line x1="742.00" y1="326.94" x2="730.80" y2="326.94" stroke="#000" stroke-width="1.4" />
<line x1="91.20" y1="320.75" x2="113.40" y2="320.75" stroke="#000" stroke-width="1.4" />
<line x1="742.00" y1="320.75" x2="719.80" y2="320.75" stroke="#000" stroke-width="1.4" />
<line x1="91.20" y1="280.04" x2="102.40" y2="280.04" stroke="#000" stroke-width="1.4" />
<line x1="742.00" y1="280.04" x2="730.80" y2="280.04" stroke="#000" stroke-width="1.4" />
<line x1="91.20" y1="256.23" x2="102.40" y2="256.23" stroke="#000" stroke-width="1.4" />
<line x1="742.00" y1="256.23" x2="730.80" y2="256.23" stroke="#000" stroke-width="1.4" />
<line x1="91.20" y1="239.34" x2="102.40" y2="239.34" stroke="#000" stroke-width="1.4" />
<line x1="742.00" y1="239.34" x2="730.80" y2="239.34" stroke="#000" stroke-width="1.4" />
<line x1="91.20" y1="226.23" x2="102.40" y2="226.23" stroke="#000" stroke-width="1.4" />
<line x1="742.00" y1="226.23" x2="730.80" y2="226.23" stroke="#000" stroke-width="1.4" />
<line x1="91.20" y1="215.52" x2="102.40" y2="215.52" stroke="#000" stroke-width="1.4" />
<line x1="742.00" y1="215.52" x2="730.80" y2="215.52" stroke="#000" stroke-width="1.4" />
<line x1="91.20" y1="206.47" x2="102.40" y2="206.47" stroke="#000" stroke-width="1.4" />
<line x1="742.00" y1="206.47" x2="730.80" y2="206.47" stroke="#000" stroke-width="1.4" />
<line x1="91.20" y1="198.63" x2="102.40" y2="198.63" stroke="#000" stroke-width="1.4" />
<line x1="742.00" y1="198.63" x2="730.80" y2="198.63" stroke="#000" stroke-width="1.4" />
<line x1="91.20" y1="191.71" x2="102.40" y2="191.71" stroke="#000" stroke-width="1.4" />
<line x1="742.00" y1="191.71" x2="730.80" y2="191.71" stroke="#000" stroke-width="1.4" />
<line x1="91.20" y1="185.53" x2="113.40" y2="185.53" stroke="#000" stroke-width="1.4" />
<line x1="742.00" y1="185.53" x2="719.80" y2="185.53" stroke="#000" stroke-width="1.4" />
<line x1="91.20" y1="144.82" x2="102.40" y2="144.82" stroke="#000" stroke-width="1.4" />
<line x1="742.00" y1="144.82" x2="730.80" y2="144.82" stroke="#000" stroke-width="1.4" />
<line x1="91.20" y1="121.01" x2="102.40" y2="121.01" stroke="#000" stroke-width="1.4" />
<line x1="742.00" y1="121.01" x2="730.80" y2="121.01" stroke="#000" stroke-width="1.4" />
<line x1="91.20" y1="104.11" x2="102.40" y2="104.11" stroke="#000" stroke-width="1.4" />
<line x1="742.00" y1="104.11" x2="730.80" y2="104.11" stroke="#000" stroke-width="1.4" />
<line x1="91.20" y1="91.01" x2="102.40" y2="91.01" stroke="#000" stroke-width="1.4" />
<line x1="742.00" y1="91.01" x2="730.80" y2="91.01" stroke="#000" stroke-width="1.4" />
<line x1="91.20" y1="80.30" x2="102.40" y2="80.30" stroke="#000" stroke-width="1.4" />
<line x1="742.00" y1="80.30" x2="730.80" y2="80.30" stroke="#000" stroke-width="1.4" />
<line x1="91.20" y1="71.25" x2="102.40" y2="71.25" stroke="#000" stroke-width="1.4" />
<line x1="742.00" y1="71.25" x2="730.80" y2="71.25" stroke="#000" stroke-width="1.4" />
<line x1="91.20" y1="63.40" x2="102.40" y2="63.40" stroke="#000" stroke-width="1.4" />
<line x1="742.00" y1="63.40" x2="730.80" y2="63.40" stroke="#000" stroke-width="1.4" />
<line x1="91.20" y1="56.49" x2="102.40" y2="56.49" stroke="#000" stroke-width="1.4" />
<line x1="742.00" y1="56.49" x2="730.80" y2="56.49" stroke="#000" stroke-width="1.4" />
<line x1="91.20" y1="50.30" x2="113.40" y2="50.30" stroke="#000" stroke-width="1.4" />
<line x1="742.00" y1="50.30" x2="719.80" y2="50.30" stroke="#000" stroke-width="1.4" />
<line x1="91.20" y1="916.91" x2="106.00" y2="916.91" stroke="#000" stroke-width="1.4" />
<line x1="742.00" y1="916.91" x2="727.20" y2="916.91" stroke="#000" stroke-width="1.4" />
<line x1="91.20" y1="884.97" x2="101.20" y2="884.97" stroke="#000" stroke-width="1.4" />
<line x1="742.00" y1="884.97" x2="732.00" y2="884.97" stroke="#000" stroke-width="1.4" />
<line x1="91.20" y1="857.97" x2="101.20" y2="857.97" stroke="#000" stroke-width="1.4" />
<line x1="742.00" y1="857.97" x2="732.00" y2="857.97" stroke="#000" stroke-width="1.4" />
<line x1="91.20" y1="834.58" x2="101.20" y2="834.58" stroke="#000" stroke-width="1.4" />
<line x1="742.00" y1="834.58" x2="732.00" y2="834.58" stroke="#000" stroke-width="1.4" />
<line x1="91.20" y1="813.95" x2="101.20" y2="813.95" stroke="#000" stroke-width="1.4" />
<line x1="742.00" y1="813.95" x2="732.00" y2="813.95" stroke="#000" stroke-width="1.4" />
<line x1="91.20" y1="795.50" x2="106.00" y2="795.50" stroke="#000" stroke-width="1.4" />
<line x1="742.00" y1="795.50" x2="727.20" y2="795.50" stroke="#000" stroke-width="1.4" />
<line x1="91.20" y1="778.81" x2="101.20" y2="778.81" stroke="#000" stroke-width="1.4" />
<line x1="742.00" y1="778.81" x2="732.00" y2="778.81" stroke="#000" stroke-width="1.4" />
<line x1="91.20" y1="763.57" x2="101.20" y2="763.57" stroke="#000" stroke-width="1.4" />
<line x1="742.00" y1="763.57" x2="732.00" y2="763.57" stroke="#000" stroke-width="1.4" />
<line x1="91.20" y1="749.55" x2="101.20" y2="749.55" stroke="#000" stroke-width="1.4" />
<line x1="742.00" y1="749.55" x2="732.00" y2="749.55" stroke="#000" stroke-width="1.4" />
<line x1="91.20" y1="736.57" x2="101.20" y2="736.57" stroke="#000" stroke-width="1.4" />
<line x1="742.00" y1="736.57" x2="732.00" y2="736.57" stroke="#000" stroke-width="1.4" />
<line x1="91.20" y1="724.48" x2="106.00" y2="724.48" stroke="#000" stroke-width="1.4" />
<line x1="742.00" y1="724.48" x2="727.20" y2="724.48" stroke="#000" stroke-width="1.4" />
<line x1="91.20" y1="713.18" x2="101.20" y2="713.18" stroke="#000" stroke-width="1.4" />
<line x1="742.00" y1="713.18" x2="732.00" y2="713.18" stroke="#000" stroke-width="1.4" />
<line x1="91.20" y1="702.56" x2="101.20" y2="702.56" stroke="#000" stroke-width="1.4" />
<line x1="742.00" y1="702.56" x2="732.00" y2="702.56" stroke="#000" stroke-width="1.4" />
<line x1="91.20" y1="692.55" x2="101.20" y2="692.55" stroke="#000" stroke-width="1.4" />
<line x1="742.00" y1="692.55" x2="732.00" y2="692.55" stroke="#000" stroke-width="1.4" />
<line x1="91.20" y1="683.08" x2="101.20" y2="683.08" stroke="#000" stroke-width="1.4" />
<line x1="742.00" y1="683.08" x2="732.00" y2="683.08" stroke="#000" stroke-width="1.4" />
<line x1="91.20" y1="674.09" x2="106.00" y2="674.09" stroke="#000" stroke-width="1.4" />
<line x1="742.00" y1="674.09" x2="727.20" y2="674.09" stroke="#000" stroke-width="1.4" />
<line x1="91.20" y1="665.55" x2="101.20" y2="665.55" stroke="#000" stroke-width="1.4" />
<line x1="742.00" y1="665.55" x2="732.00" y2="665.55" stroke="#000" stroke-width="1.4" />
<line x1="91.20" y1="657.40" x2="101.20" y2="657.40" stroke="#000" stroke-width="1.4" />
<line x1="742.00" y1="657.40" x2="732.00" y2="657.40" stroke="#000" stroke-width="1.4" />
<line x1="91.20" y1="649.62" x2="101.20" y2="649.62" stroke="#000" stroke-width="1.4" />
<line x1="742.00" y1="649.62" x2="732.00" y2="649.62" stroke="#000" stroke-width="1.4" />
<line x1="91.20" y1="642.16" x2="101.20" y2="642.16" stroke="#000" stroke-width="1.4" />
<line x1="742.00" y1="642.16" x2="732.00" y2="642.16" stroke="#000" stroke-width="1.4" />
<rect x="91.2" y="35.0" width="650.8" height="920.7" fill="none" stroke="#000" stroke-width="1.9"/>
<line x1="91.20" y1="635.00" x2="742.00" y2="635.00" stroke="#000" stroke-width="1.9" />
<rect x="147.80" y="462.20" width="10.80" height="10.80" fill="#000"/>
<line x1="128.80" y1="493.90" x2="177.10" y2="493.90" stroke="#a2122e" stroke-width="1.7" />
<path d="M153.20,488.10 L147.50,499.50 L158.90,499.50 Z" fill="none" stroke="#a2122e" stroke-width="1.55" stroke-linejoin="miter"/>
<line x1="128.80" y1="519.90" x2="175.30" y2="519.90" stroke="#0f6df0" stroke-width="1.8" stroke-dasharray="4.3 3.9"/>
<path d="M148.50,517.84 L150.85,520.18 L150.07,524.10 L153.20,521.75 L156.33,524.10 L155.55,520.18 L157.90,517.84 L154.76,517.84 L153.20,514.70 L151.64,517.84 Z M152.35,519.85 a0.85,0.85 0 1,0 1.7,0 a0.85,0.85 0 1,0 -1.7,0 Z" fill="#0f6df0" fill-rule="evenodd" stroke="#0f6df0" stroke-width="0.7" stroke-linejoin="round"/>
<line x1="128.80" y1="545.50" x2="175.30" y2="545.50" stroke="#78be02" stroke-width="1.8" stroke-dasharray="4.3 3.9"/>
<path d="M148.50,543.44 L150.85,545.78 L150.07,549.70 L153.20,547.35 L156.33,549.70 L155.55,545.78 L157.90,543.44 L154.76,543.44 L153.20,540.30 L151.64,543.44 Z M152.35,545.45 a0.85,0.85 0 1,0 1.7,0 a0.85,0.85 0 1,0 -1.7,0 Z" fill="#78be02" fill-rule="evenodd" stroke="#78be02" stroke-width="0.7" stroke-linejoin="round"/>
<text transform="translate(186.90,472.80)" font-size="19.0" text-anchor="start" fill="#000" textLength="42.3" lengthAdjust="spacingAndGlyphs" >CMS</text>
<text transform="translate(187.10,499.60)" font-size="19.0" text-anchor="start" fill="#000" textLength="142.9" lengthAdjust="spacingAndGlyphs" >Pythia 6.428 370</text>
<text transform="translate(187.10,525.40)" font-size="19.0" text-anchor="start" fill="#000" textLength="142.9" lengthAdjust="spacingAndGlyphs" >Pythia 6.428 378</text>
<text transform="translate(187.10,550.90)" font-size="19.0" text-anchor="start" fill="#000" textLength="142.9" lengthAdjust="spacingAndGlyphs" >Pythia 6.428 379</text>
<text transform="translate(333.50,604.20)" font-size="15.8" text-anchor="start" fill="#9a9a9a" textLength="164.8" lengthAdjust="spacingAndGlyphs" >(CMS_2021_I1920187)</text>
<text transform="translate(103.30,28.50)" font-size="24.2" text-anchor="start" fill="#000" textLength="156.6" lengthAdjust="spacingAndGlyphs" >13000 GeV pp</text>
<text transform="translate(730.80,28.60)" font-size="24.0" text-anchor="end" fill="#000" textLength="43.9" lengthAdjust="spacingAndGlyphs" >Jets</text>
<text transform="translate(85.00,86.90)" font-size="24.2" text-anchor="start" fill="#000" textLength="543.0" lengthAdjust="spacingAndGlyphs" >CMS, 13 TeV, AK8 jets, forward dijet region, 65 &lt;p</text>
<text transform="translate(619.40,70.80)" font-size="15.0" text-anchor="start" fill="#000" textLength="21.2" lengthAdjust="spacingAndGlyphs" >{jet</text>
<text transform="translate(618.90,99.60)" font-size="16.0" text-anchor="start" fill="#000" >T</text>
<text transform="translate(641.00,86.90)" font-size="24.2" text-anchor="start" fill="#000" textLength="112.2" lengthAdjust="spacingAndGlyphs" >}&lt; 88 GeV</text>
<text transform="translate(70.10,61.00)" font-size="23.0" text-anchor="end" fill="#000" >10</text>
<text transform="translate(71.00,51.80)" font-size="14.5" text-anchor="start" fill="#000" >2</text>
<text transform="translate(79.60,194.10)" font-size="23.0" text-anchor="end" fill="#000" >10</text>
<text transform="translate(83.00,329.00)" font-size="23.0" text-anchor="end" fill="#000" >1</text>
<text transform="translate(65.20,466.58)" font-size="23.0" text-anchor="end" fill="#000" >10</text>
<text transform="translate(64.90,456.38)" font-size="14.5" text-anchor="start" fill="#000" >&#8722;1</text>
<text transform="translate(65.20,601.80)" font-size="23.0" text-anchor="end" fill="#000" >10</text>
<text transform="translate(64.90,591.60)" font-size="14.5" text-anchor="start" fill="#000" >&#8722;2</text>
<text transform="translate(77.50,682.69)" font-size="23.0" text-anchor="end" fill="#000" >2</text>
<text transform="translate(747.30,682.69)" font-size="23.0" text-anchor="start" fill="#000" >2</text>
<text transform="translate(80.00,804.10)" font-size="23.0" text-anchor="end" fill="#000" >1</text>
<text transform="translate(747.30,804.10)" font-size="23.0" text-anchor="start" fill="#000" >1</text>
<text transform="translate(77.50,925.51)" font-size="23.0" text-anchor="end" fill="#000" >0.5</text>
<text transform="translate(747.30,925.51)" font-size="23.0" text-anchor="start" fill="#000" >0.5</text>
<text transform="translate(103.50,977.60)" font-size="23.0" text-anchor="middle" fill="#000" >0</text>
<text transform="translate(417.20,977.60)" font-size="23.0" text-anchor="middle" fill="#000" >0.5</text>
<text transform="translate(732.00,977.60)" font-size="23.0" text-anchor="middle" fill="#000" >1</text>
<text transform="translate(411.60,1006.30)" font-size="25.0" text-anchor="start" fill="#000" textLength="339.5" lengthAdjust="spacingAndGlyphs" >groomed pTD2 (charged-only)</text>
<text transform="translate(37.20,846.30) rotate(-90)" font-size="17.6" text-anchor="start" fill="#000" textLength="105.2" lengthAdjust="spacingAndGlyphs" >Ratio to CMS</text>
<text transform="translate(760.30,254.00) rotate(-90)" font-size="18.9" text-anchor="start" fill="#7c7c7c" textLength="218.0" lengthAdjust="spacingAndGlyphs" >Rivet 4.1.0, &#8805; 100k events</text>
<text transform="translate(762.20,629.20) rotate(-90)" font-size="18.9" text-anchor="start" fill="#7c7c7c" textLength="297.0" lengthAdjust="spacingAndGlyphs" >mcplots.cern.ch [arXiv:2401.10621]</text>
<text transform="translate(28.00,267.20) rotate(-90)" font-size="24" text-anchor="start" fill="#000" >#</text>
<text transform="translate(28.00,140.40) rotate(-90)" font-size="24" text-anchor="start" fill="#000" >#</text>
<line x1="21.30" y1="252.40" x2="21.30" y2="140.60" stroke="#000" stroke-width="1.9" />
<line x1="21.30" y1="126.90" x2="21.30" y2="34.80" stroke="#000" stroke-width="1.9" />
<text transform="translate(17.60,202.70) rotate(-90)" font-size="24" text-anchor="start" fill="#000" >1</text>
<text transform="translate(41.80,246.00) rotate(-90)" font-size="24" text-anchor="start" fill="#000" >d N /</text>
<text transform="translate(41.80,182.00) rotate(-90)" font-size="24" text-anchor="start" fill="#000" >d p</text>
<text transform="translate(55.80,152.20) rotate(-90)" font-size="16" text-anchor="start" fill="#000" >T</text>
<text transform="translate(17.00,95.70) rotate(-90)" font-size="24" text-anchor="start" fill="#000" >d</text>
<text transform="translate(7.20,83.40) rotate(-90)" font-size="11.5" text-anchor="start" fill="#000" >2</text>
<text transform="translate(17.00,75.00) rotate(-90)" font-size="24" text-anchor="start" fill="#000" >N</text>
<text transform="translate(41.80,120.70) rotate(-90)" font-size="24" text-anchor="start" fill="#000" >d p</text>
<text transform="translate(56.40,89.80) rotate(-90)" font-size="16" text-anchor="start" fill="#000" >T</text>
<text transform="translate(41.80,65.00) rotate(-90)" font-size="24" text-anchor="start" fill="#000" >d</text>
<text transform="translate(41.80,48.20) rotate(-90)" font-size="24" text-anchor="start" fill="#000" >&#955;</text>
</svg>
</body></html>
